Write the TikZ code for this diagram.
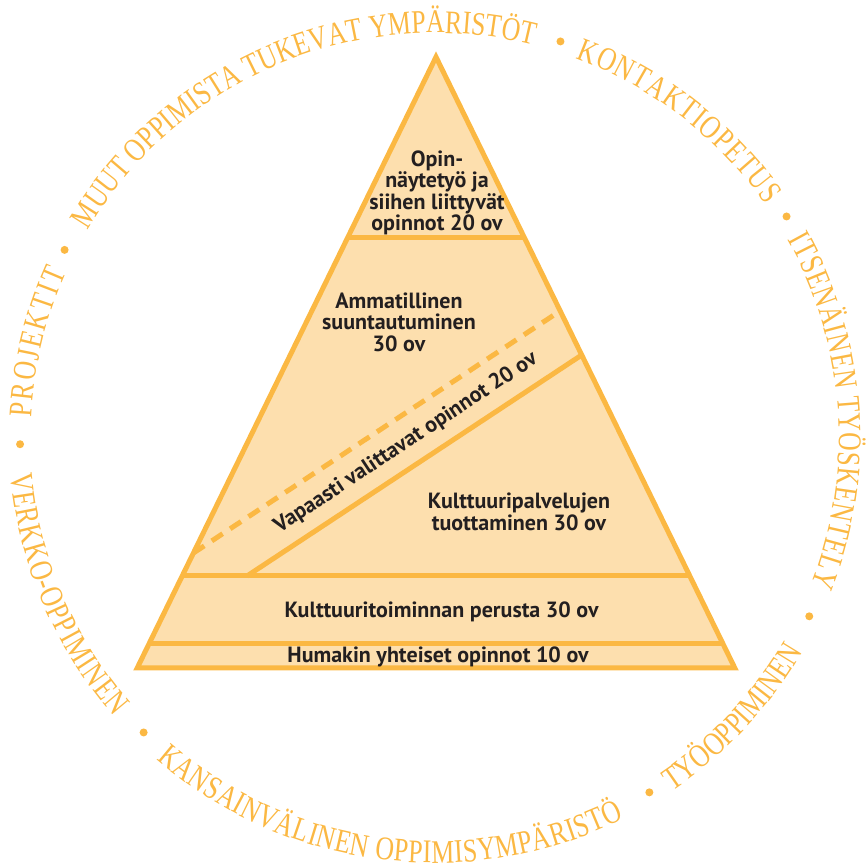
\documentclass[tikz,border=0pt]{standalone}
\usepackage{fontspec}
\usetikzlibrary{decorations.text,calc}
\newfontfamily\circfont[FakeStretch=0.78]{Liberation Serif}
\newfontfamily\pyrfont{PT Sans}
\definecolor{orng}{HTML}{FBB843}
\definecolor{pfill}{HTML}{FDDFAE}
\definecolor{txt}{HTML}{231F20}
\newcommand{\circstyle}{\circfont\fontsize{33}{35}\selectfont}
\newcommand{\arctext}[4]{{\circstyle\path[font=\circstyle,decorate,decoration={text along path, text align={fit to path}, text color=orng, text={|\circstyle|#1}}] ($(C)+(#2:#4)$) arc[start angle=#2, end angle=#3, radius=#4];}}
\begin{document}
\begin{tikzpicture}[x=1pt,y=1pt,
  pyrline/.style={draw=orng,line width=5pt},
  pyrtext/.style={font=\pyrfont\bfseries\fontsize{22}{21.5}\selectfont, text=txt, align=center, inner sep=0pt},
  dotmark/.style={fill=orng,circle,minimum size=8pt,inner sep=0pt}
]
\useasboundingbox (0,0) rectangle (866,867);
\coordinate (C) at (435,430);
\coordinate (A) at (436,810);
\coordinate (L) at (137.2,199);
\coordinate (R) at (734.8,199);
\fill[pfill] (A)--(L)--(R)--cycle;
% dividers
\draw[pyrline] ($(A)!0.2962!(L)$) coordinate (d1l) -- ($(A)!0.2962!(R)$) coordinate (d1r);
\draw[pyrline] ($(A)!0.8494!(L)$) coordinate (d2l) -- ($(A)!0.8494!(R)$) coordinate (d2r);
\draw[pyrline] ($(A)!0.9591!(L)$) coordinate (d3l) -- ($(A)!0.9591!(R)$) coordinate (d3r);
\coordinate (s1) at (247,291);
\draw[pyrline] (s1) -- ($(A)!0.4877!(R)$) coordinate (s2);
\coordinate (q2) at (557,554);
\draw[pyrline, dash pattern=on 13pt off 9pt] ($(A)!0.8118!(L)$) coordinate (q1) -- (q2);
\draw[pyrline, line join=miter] (A)--(L)--(R)--cycle;
% texts
\node[pyrtext] (t1) at (437,674) {Opin-\\näytetyö ja\\siihen liittyvät\\opinnot 20 ov};
\node[pyrtext] (t2) at (399,545) {Ammatillinen\\suuntautuminen\\30 ov};
\node[pyrtext] (t3) at (519,355) {Kulttuuripalvelujen\\tuottaminen 30 ov};
\node[pyrtext] (t4) at (441.5,255) {Kulttuuritoiminnan perusta 30 ov};
\node[pyrtext] (t5) at (438,210) {Humakin yhteiset opinnot 10 ov};
\node[pyrtext, rotate=33.5] (t6) at (406,424) {Vapaasti valittavat opinnot 20 ov};
% circle texts
\arctext{PROJEKTIT}{177.2}{155.9}{404}
\arctext{MUUT OPPIMISTA TUKEVAT YMPÄRISTÖT}{149.2}{76.1}{404}
\arctext{KONTAKTIOPETUS}{69.6}{35.1}{404}
\arctext{ITSENÄINEN TYÖSKENTELY}{29.2}{-21.5}{404}
\arctext{VERKKO-OPPIMINEN}{185}{221.1}{426}
\arctext{KANSAINVÄLINEN OPPIMISYMPÄRISTÖ}{229.1}{296.3}{426}
\arctext{TYÖOPPIMINEN}{303.8}{329.4}{426}
\foreach \a [count=\i] in {153.2,72.4,32.1,181,225.4,301.1,334.4}
  \node[dotmark] (dot\i) at ($(C)+(\a:415)$) {};
\end{tikzpicture}
\end{document}
